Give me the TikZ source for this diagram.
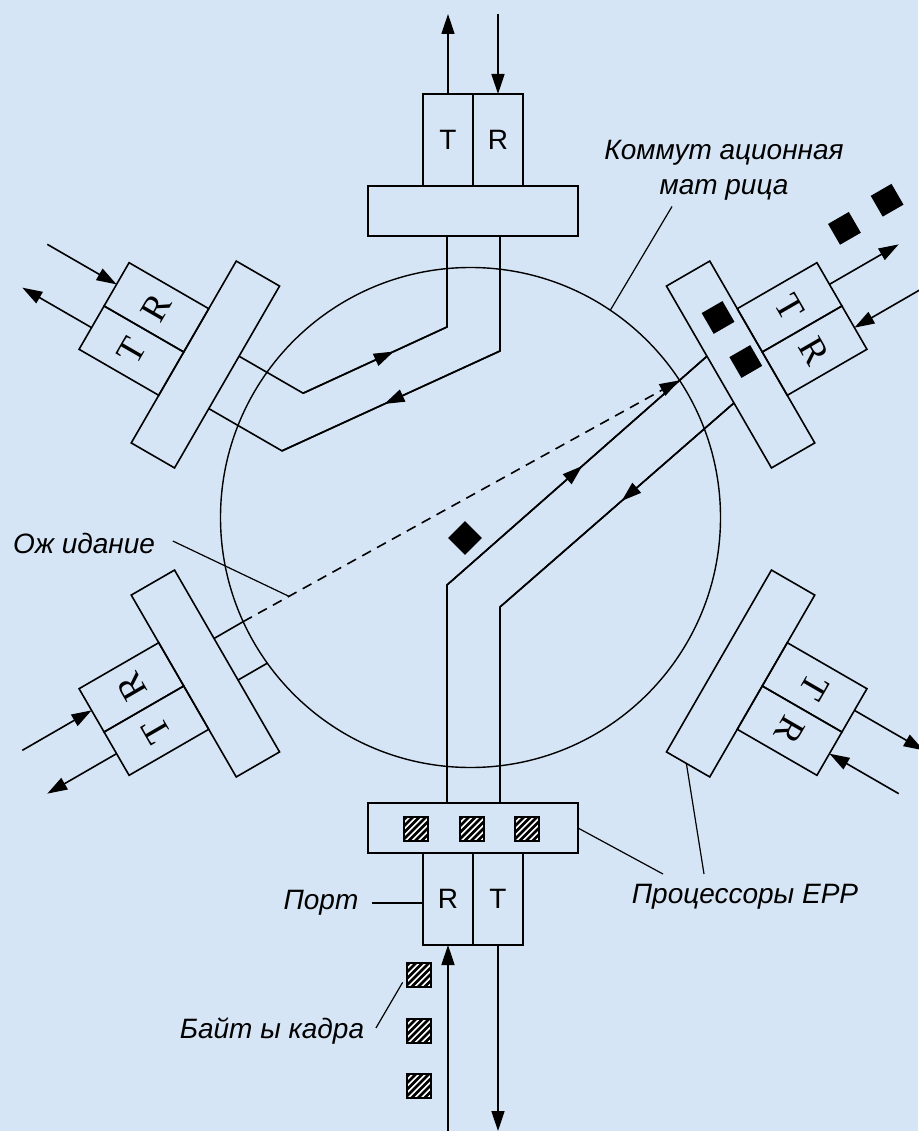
\documentclass[tikz,border=0pt]{standalone}
\usepackage{fontspec}
\setmainfont{Liberation Sans}
\newfontfamily\lsans{Liberation Sans}
\newfontfamily\lserif{Liberation Serif}
\usetikzlibrary{arrows.meta,calc,intersections,decorations.markings}
\definecolor{bgblue}{RGB}{214,229,245}
\tikzset{
  proc/.style={draw, minimum width=210pt, minimum height=50pt, inner sep=0pt},
  cell/.style={draw, minimum width=50pt, minimum height=92pt, inner sep=0pt},
  letsans/.style={font=\lsans\fontsize{28}{30}\selectfont},
  letserif/.style={font=\lserif\fontsize{37}{38}\selectfont},
  tipline/.style={-{Triangle[length=20pt,width=13pt]}},
  midarr/.style={postaction={decorate}, decoration={markings, mark=at position #1 with {\arrow{Triangle[length=20pt,width=13pt]}}}},
  midarr/.default=0.55,
  lab/.style={font=\lsans\itshape\fontsize{28}{35}\selectfont, inner sep=1pt},
  blk/.style={fill=black, minimum size=24pt, inner sep=0pt},
  hatch/.style={draw, fill=white, minimum size=24pt, inner sep=0pt, line width=1.8pt,
    path picture={\foreach \k in {-44,-37.5,...,14}{\draw[line width=2.6pt] ([shift={(\k pt,-16pt)}]path picture bounding box.center) -- ++(32pt,32pt);}}},
}
% name, x, y, rotation, letter rotation, letter style, arrow length
\newcommand\portdraw[7]{%
  \begin{scope}[shift={(#2,#3)}, rotate=#4, transform shape]
    \node[proc] (#1-p) at (0,0) {};
    \node[cell, #6, rotate=#5] (#1-t) at (-25,71) {T};
    \node[cell, #6, rotate=#5] (#1-r) at (25,71) {R};
    \coordinate (#1-to) at (-25,117);
    \coordinate (#1-te) at (-25,117+#7);
    \coordinate (#1-ro) at (25,117);
    \coordinate (#1-re) at (25,117+#7);
    \draw[tipline] (#1-to) -- (#1-te);
    \draw[tipline] (#1-re) -- (#1-ro);
  \end{scope}}
\begin{document}
\begin{tikzpicture}[x=1pt, y=1pt, line width=1.6pt]
\useasboundingbox (0,0) rectangle (918,-1131);
\fill[bgblue] (0,0) rectangle (918,-1131);

% switching matrix
\draw[name path=circ, line width=1.4pt] (470.5,-517.5) circle [radius=250pt];

% ports
\portdraw{pt}{473}{-211}{0}{0}{letsans}{80}
\portdraw{pul}{205.4}{-364.5}{60}{0}{letserif}{80}
\portdraw{pll}{205.4}{-673.5}{120}{0}{letserif}{80}
\portdraw{pb}{473}{-828}{180}{180}{letsans}{186}
\portdraw{plr}{740.6}{-673.5}{240}{0}{letserif}{80}
\portdraw{pur}{740.6}{-364.5}{300}{0}{letserif}{80}

% attachment coordinates
\begin{scope}[shift={(473,-211)}]
  \coordinate (pt-Ta) at (-26,-25); \coordinate (pt-Tb) at (-26,-116);
  \coordinate (pt-Ra) at (27,-25);  \coordinate (pt-Rb) at (27,-140);
\end{scope}
\begin{scope}[shift={(205.4,-364.5)}, rotate=60]
  \coordinate (pul-Ra) at (24,-25);    \coordinate (pul-Rb) at (24,-99);
  \coordinate (pul-Ta) at (-36.5,-25); \coordinate (pul-Tb) at (-36.5,-109.5);
\end{scope}
\begin{scope}[shift={(473,-828)}, rotate=180]
  \coordinate (pb-Ra) at (26,-25);  \coordinate (pb-Rb) at (26,-243);
  \coordinate (pb-Ta) at (-27,-25); \coordinate (pb-Tb) at (-27,-221);
  \coordinate (pb-port) at (50,75);
  \coordinate (pb-edge) at (-105,0);
\end{scope}
\begin{scope}[shift={(740.6,-364.5)}, rotate=300]
  \coordinate (pur-Ta) at (-24,-25); \coordinate (pur-Ra) at (30,-25);
\end{scope}
\begin{scope}[shift={(205.4,-673.5)}, rotate=120]
  \coordinate (pll-Ra) at (26,-25);  \coordinate (pll-Rf) at (26,-150);
  \coordinate (pll-Ta) at (-22,-25); \coordinate (pll-Tf) at (-22,-150);
\end{scope}
\begin{scope}[shift={(740.6,-673.5)}, rotate=240]
  \coordinate (plr-edge) at (105,-2);
\end{scope}

% channel upper-left <-> top
\draw[line join=miter] (pul-Ra) -- (pul-Rb) -- (pt-Tb) -- (pt-Ta);
\draw[midarr=0.63] (pul-Rb) -- (pt-Tb);
\draw[line join=miter] (pt-Ra) -- (pt-Rb) -- (pul-Tb) -- (pul-Ta);
\draw[midarr=0.53] (pt-Rb) -- (pul-Tb);

% channel bottom <-> upper-right
\draw[line join=miter] (pb-Ra) -- (pb-Rb) -- (pur-Ta);
\draw[midarr=0.52] (pb-Rb) -- (pur-Ta);
\draw[line join=miter] (pur-Ra) -- (pb-Tb) -- (pb-Ta);
\draw[midarr=0.48] (pur-Ra) -- (pb-Tb);

% lower-left stubs and waiting (dashed) connection
\path[name path=llR] (pll-Ra) -- (pll-Rf);
\path[name path=llT] (pll-Ta) -- (pll-Tf);
\path[name path=lineP] (pb-Rb) -- (pur-Ta);
\path[name intersections={of=circ and llR, by={llRc}}];
\path[name intersections={of=circ and llT, by={llTc}}];
\path[name intersections={of=circ and lineP, by={urPc}}];
\draw (pll-Ra) -- (llRc);
\draw (pll-Ta) -- (llTc);
\draw[dash pattern=on 10pt off 7pt, tipline] (llRc) -- (urPc);
\path (llRc) -- (urPc) coordinate[pos=0.105] (waitpt);

% black frame bytes
\begin{scope}[shift={(740.6,-364.5)}, rotate=300, transform shape]
  \node[blk] (sq1) at (-52,4) {};
  \node[blk] (sq2) at (0,6) {};
  \node[blk] (sq3) at (-66,158) {};
  \node[blk] (sq4) at (-69,209) {};
\end{scope}
\node[blk, rotate=45] (dia) at (465,-538) {};

% hatched frame bytes
\node[hatch] (h1) at (416,-829) {};
\node[hatch] (h2) at (472,-829) {};
\node[hatch] (h3) at (527,-829) {};
\node[hatch] (h4) at (419,-975) {};
\node[hatch] (h5) at (419,-1031) {};
\node[hatch] (h6) at (419,-1086) {};

% labels
\node[lab, align=center] (km) at (724,-170.5) {Коммут ационная\\мат рица};
\coordinate (kmEnd) at ($(470.5,-517.5)+(56:250)$);
\draw[line width=1.2pt] ([shift={(-52pt,-36pt)}]km.center) -- (kmEnd);

\node[lab] (wait) at (84,-543) {Ож идание};
\draw[line width=1.2pt] ([shift={(16pt,2pt)}]wait.east) -- (waitpt);

\node[lab] (port) at (321,-903) {Порт};
\draw[line width=1.2pt] ([xshift=12pt]port.east) -- (pb-port);

\node[lab] (bytes) at (272,-1031) {Байт ы кадра};
\draw[line width=1.2pt] ([shift={(10pt,3pt)}]bytes.east) -- ([shift={(-3.5pt,5.5pt)}]h4.south west);

\node[lab] (epp) at (745,-897) {Процессоры EPP};
\draw[line width=1.2pt] ([shift={(-82pt,23pt)}]epp.center) -- (pb-edge);
\draw[line width=1.2pt] ([shift={(-41pt,23pt)}]epp.center) -- (plr-edge);
\end{tikzpicture}
\end{document}
